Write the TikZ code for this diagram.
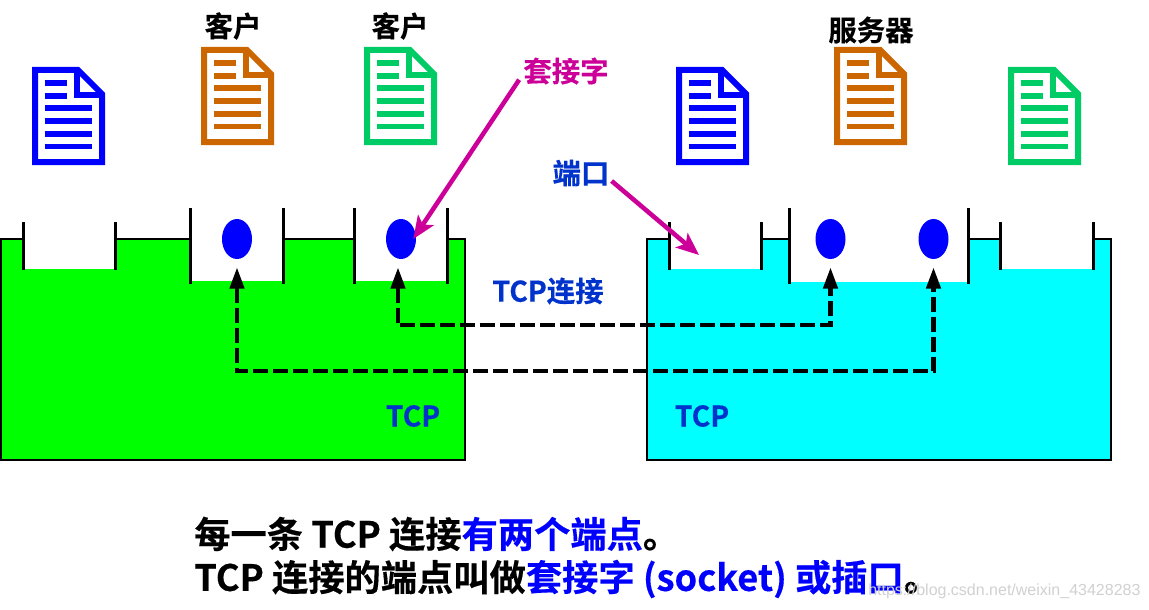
\documentclass[tikz,border=0pt]{standalone}
\usepackage{fontspec}
\setmainfont{Noto Sans CJK SC}[BoldFont={Noto Sans CJK SC Bold},BoldFeatures={FakeBold=0.4}]
\setsansfont{Liberation Sans}
\usetikzlibrary{arrows.meta,shapes.geometric}
\definecolor{docblue}{HTML}{0000FF}
\definecolor{docorange}{HTML}{CC6600}
\definecolor{docgreen}{HTML}{00CC66}
\definecolor{magentaline}{HTML}{CC0099}
\definecolor{labelblue}{HTML}{0033CC}
\definecolor{hostgreen}{HTML}{00FF00}
\definecolor{hostcyan}{HTML}{00FFFF}
\newcommand{\docicon}[3]{%
  \begin{scope}[shift={(#1,#2)},x=0.75pt,y=-0.75pt]
    \draw[#3,line width=4.5pt,fill=white,miter limit=10] (3,3) -- (46,3) -- (70,27) -- (70,95) -- (3,95) -- cycle;
    \draw[#3,line width=4.5pt] (44.5,3) -- (44.5,28.5) -- (70,28.5);
    \foreach \yy in {16,29} \draw[#3,line width=4.2pt] (12.7,\yy) -- (34.7,\yy);
    \foreach \yy in {41,54,66.7,79.5} \draw[#3,line width=4.2pt] (12.7,\yy) -- (60,\yy);
  \end{scope}}
% left x, right x, wall top, floor of the white part, wall bottom
\newcommand{\notch}[5]{%
  \fill[white] (#1,#3) rectangle (#2,#4);
  \draw[wall] (#1,#3) -- (#1,#5);
  \draw[wall] (#2,#3) -- (#2,#5);}
\tikzset{
  wall/.style={line width=2.25pt,black},
  hostbox/.style={draw=black,line width=1.9pt},
  sock/.style={ellipse,fill=docblue,minimum width=22.5pt,minimum height=30pt,inner sep=0pt},
  lab/.style={inner sep=0pt,font=\bfseries\fontsize{#1}{#1}\selectfont},
  conn/.style={black,line width=3.3pt,dash pattern=on 11.25pt off 3.75pt,
    {Triangle[length=16pt,width=10.5pt,fill=black]}-{Triangle[length=16pt,width=10.5pt,fill=black]},shorten <=6pt,shorten >=6pt},
  point/.style={magentaline,line width=3.4pt,-{Stealth[length=17pt,width=14pt,inset=4pt]}}
}
\begin{document}
\begin{tikzpicture}[x=0.75pt,y=-0.75pt]
\useasboundingbox (0,0) rectangle (1149,610);
\fill[white] (0,0) rectangle (1149,610);
% hosts
\fill[hostgreen] (1,239) rectangle (465,460);
\draw[hostbox] (1,239) rectangle (465,460);
\fill[hostcyan] (647,239) rectangle (1111,460);
\draw[hostbox] (647,239) rectangle (1111,460);
\notch{23.5}{115.5}{222}{269}{270}
\notch{190.5}{283.5}{208}{281}{284}
\notch{354.5}{447.5}{208}{281}{284}
\notch{669.5}{761.5}{222}{269}{270}
\notch{789.5}{968.5}{208}{282}{284}
\notch{1000.5}{1093.5}{222}{269}{270}
% documents
\docicon{32}{67}{docblue}
\docicon{201}{47}{docorange}
\docicon{364}{47}{docgreen}
\docicon{676}{67}{docblue}
\docicon{834}{47}{docorange}
\docicon{1008}{67}{docgreen}
% sockets
\node[sock] (s1) at (237,239) {};
\node[sock] (s2) at (401,239) {};
\node[sock] (s3) at (830.5,239) {};
\node[sock] (s4) at (933.5,239) {};
% labels
\node[lab=21.3pt] (c1) at (233,26) {客户};
\node[lab=21.3pt] (c2) at (400,26) {客户};
\node[lab=21.3pt] (srv) at (871,30) {服务器};
\node[lab=21.3pt,text=magentaline] (tj) at (566,71) {套接字};
\node[lab=21.3pt,text=labelblue] (dk) at (581,173) {端口};
\node[lab=21.3pt,text=labelblue] (tc) at (548,291) {TCP连接};
\node[lab=21.3pt,text=labelblue] (t1) at (413,416) {TCP};
\node[lab=21.3pt,text=labelblue] (t2) at (702,416) {TCP};
\coordinate (portend) at (699,255);
% connectors
\draw[point] ([shift={(-4,-5)}]tj.south west) -- ([xshift=-2.25pt]s2.east);
\draw[point] ([shift={(2,8)}]dk.east) -- (portend);
\draw[conn] ([xshift=-2.25pt]s2.south) -- ++(0,66) -| (s3.south);
\draw[conn] (s1.south) -- ++(0,112) -| (s4.south);
% bottom text
\node[lab=27.2pt,anchor=west] (l1) at (194,534) {每一条 TCP 连接\textcolor{docblue}{有两个端点}。};
\node[lab=27.2pt,anchor=west] (l2) at (194,579) {TCP 连接的端点叫做\textcolor{docblue}{套接字 (socket) 或插口}。};
\node[inner sep=0pt,anchor=west,font=\sffamily\fontsize{12pt}{12pt}\selectfont,text=black!18] (wm) at (868,591) {https://blog.csdn.net/weixin\_43428283};
\end{tikzpicture}
\end{document}
